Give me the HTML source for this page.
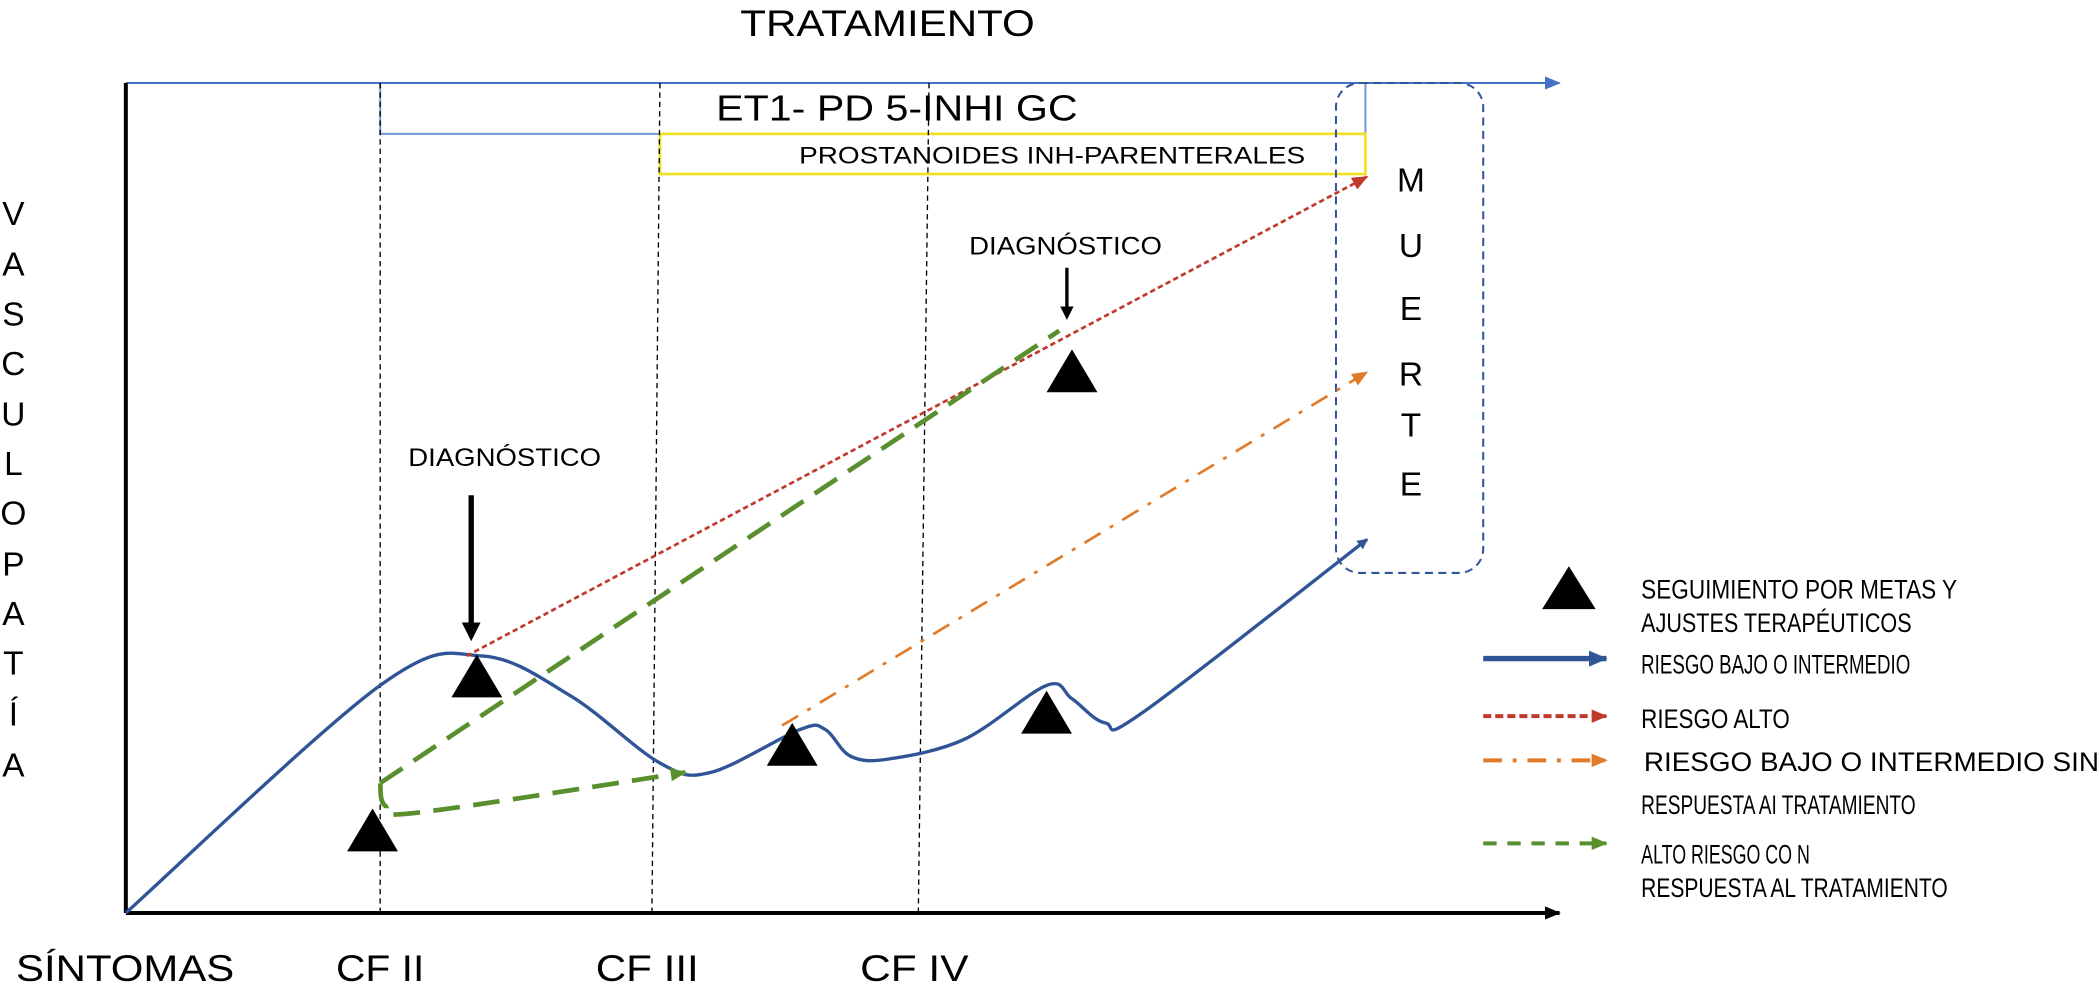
<!DOCTYPE html>
<html><head><meta charset="utf-8"><style>
html,body{margin:0;padding:0;background:#fff;}
svg{display:block;font-family:"Liberation Sans",sans-serif;}
</style></head><body>
<svg id="chart" width="2099" height="993" viewBox="0 0 1568 741.8" preserveAspectRatio="none">
<defs>
<marker id="aBlue" markerWidth="8" markerHeight="8" refX="7" refY="4" orient="auto" markerUnits="userSpaceOnUse"><path d="M0,0 L8,4 L0,8z" fill="#2f5597"/></marker>
<marker id="aBlack" markerWidth="12" markerHeight="10" refX="11" refY="5" orient="auto" markerUnits="userSpaceOnUse"><path d="M0,0 L12,5 L0,10z" fill="#000"/></marker>
<marker id="aTop" markerWidth="12" markerHeight="10" refX="11" refY="5" orient="auto" markerUnits="userSpaceOnUse"><path d="M0,0 L12,5 L0,10z" fill="#4472c4"/></marker>
<marker id="aRed" markerWidth="12" markerHeight="10" refX="11" refY="5" orient="auto" markerUnits="userSpaceOnUse"><path d="M0,0 L12,5 L0,10z" fill="#c0392b"/></marker>
<marker id="aOr" markerWidth="12" markerHeight="10" refX="11" refY="5" orient="auto" markerUnits="userSpaceOnUse"><path d="M0,0 L12,5 L0,10z" fill="#e07b2a"/></marker>
<marker id="aGr" markerWidth="12" markerHeight="10" refX="11" refY="5" orient="auto" markerUnits="userSpaceOnUse"><path d="M0,0 L12,5 L0,10z" fill="#5a8f2e"/></marker>
<marker id="aBl2" markerWidth="14" markerHeight="12" refX="13" refY="6" orient="auto" markerUnits="userSpaceOnUse"><path d="M0,0 L14,6 L0,12z" fill="#2f5597"/></marker>
</defs>

<text x="553" y="27" font-size="28" textLength="220" lengthAdjust="spacingAndGlyphs">TRATAMIENTO</text>

<rect x="284" y="62" width="736" height="38" fill="none" stroke="#6f9ad6" stroke-width="1.5"/>
<rect x="493" y="100" width="527" height="30" fill="none" stroke="#f0e020" stroke-width="2"/>
<text x="535" y="90" font-size="27" textLength="270" lengthAdjust="spacingAndGlyphs">ET1- PD 5-INHI GC</text>
<text x="597" y="122" font-size="18" textLength="378" lengthAdjust="spacingAndGlyphs">PROSTANOIDES INH-PARENTERALES</text>

<line x1="94" y1="62" x2="1165" y2="62" stroke="#4472c4" stroke-width="1.5" marker-end="url(#aTop)"/>
<line x1="94" y1="62" x2="94" y2="682" stroke="#000" stroke-width="3"/>
<line x1="94" y1="682" x2="1165" y2="682" stroke="#000" stroke-width="3" marker-end="url(#aBlack)"/>

<line x1="284" y1="62" x2="284" y2="682" stroke="#000" stroke-width="1" stroke-dasharray="4,3"/>
<line x1="493" y1="62" x2="487" y2="682" stroke="#000" stroke-width="1" stroke-dasharray="4,3"/>
<line x1="694" y1="62" x2="686" y2="682" stroke="#000" stroke-width="1" stroke-dasharray="4,3"/>

<rect x="998" y="62" width="110" height="366" rx="18" fill="none" stroke="#2f5597" stroke-width="1.5" stroke-dasharray="6,4"/>
<g font-size="25" text-anchor="middle">
<text x="1054" y="143">M</text><text x="1054" y="192">U</text><text x="1054" y="239">E</text><text x="1054" y="288">R</text><text x="1054" y="326">T</text><text x="1054" y="370">E</text>
</g>

<g font-size="25" text-anchor="middle">
<text x="10" y="168">V</text><text x="10" y="206">A</text><text x="10" y="243">S</text><text x="10" y="280">C</text><text x="10" y="318">U</text><text x="10" y="355">L</text><text x="10" y="392">O</text><text x="10" y="430">P</text><text x="10" y="467">A</text><text x="10" y="504">T</text><text x="10" y="542">Í</text><text x="10" y="580">A</text>
</g>

<g id="series"></g>
<g id="marks"></g>

<g>
<text x="305" y="348" font-size="19" textLength="144" lengthAdjust="spacingAndGlyphs">DIAGNÓSTICO</text>
<line x1="352" y1="370" x2="352" y2="466" stroke="#000" stroke-width="4"/>
<path d="M345,465 L359,465 L352,479z" fill="#000"/>
</g>
<g>
<text x="724" y="190" font-size="19" textLength="144" lengthAdjust="spacingAndGlyphs">DIAGNÓSTICO</text>
<line x1="797" y1="200" x2="797" y2="230" stroke="#000" stroke-width="2.5"/>
<path d="M792,229 L802,229 L797,239z" fill="#000"/>
</g>

<g id="xlabels" font-size="28"></g>

<g font-size="20">
<path d="M1172,423 L1192,455 L1152,455z" fill="#000"/>
<text x="1226" y="447" textLength="236" lengthAdjust="spacingAndGlyphs">SEGUIMIENTO POR METAS Y</text>
<text x="1226" y="472" textLength="202" lengthAdjust="spacingAndGlyphs">AJUSTES TERAPÉUTICOS</text>
<line x1="1108" y1="492" x2="1200" y2="492" stroke="#2f5597" stroke-width="4" marker-end="url(#aBl2)"/>
<text x="1226" y="503" textLength="201" lengthAdjust="spacingAndGlyphs">RIESGO BAJO O INTERMEDIO</text>
<line x1="1108" y1="535" x2="1200" y2="535" stroke="#c0392b" stroke-width="3" stroke-dasharray="6,3" marker-end="url(#aRed)"/>
<text x="1226" y="544" textLength="111" lengthAdjust="spacingAndGlyphs">RIESGO ALTO</text>
<line x1="1108" y1="568" x2="1200" y2="568" stroke="#e07b2a" stroke-width="3" stroke-dasharray="14,8,3,8" marker-end="url(#aOr)"/>
<text x="1228" y="576" textLength="340" lengthAdjust="spacingAndGlyphs">RIESGO BAJO O INTERMEDIO SIN</text>
<text x="1226" y="608" textLength="205" lengthAdjust="spacingAndGlyphs">RESPUESTA AI TRATAMIENTO</text>
<line x1="1108" y1="630" x2="1200" y2="630" stroke="#5a8f2e" stroke-width="3" stroke-dasharray="10,8" marker-end="url(#aGr)"/>
<text x="1226" y="645" textLength="126" lengthAdjust="spacingAndGlyphs">ALTO RIESGO CO N</text>
<text x="1226" y="670" textLength="229" lengthAdjust="spacingAndGlyphs">RESPUESTA AL TRATAMIENTO</text>
</g>
</svg>
<script>
// diagram coordinates (x: time units, y: severity units)
const categories = ["SÍNTOMAS", "CF II", "CF III", "CF IV"];
const categoryX = [0, 1, 2.05, 3.1];
const categoryWidths = [163, 66, 77, 81];
const lowRiskX = [0, 1, 1.4, 1.75, 2.1, 2.3, 2.65, 2.75, 2.85, 3.0, 3.3, 3.62, 3.72, 3.85, 4.0, 4.88];
const lowRiskY = [0, 1.7, 1.92, 1.62, 1.12, 1.05, 1.37, 1.37, 1.17, 1.15, 1.3, 1.7, 1.6, 1.42, 1.5, 2.79];
const highRiskX = [1.34, 4.88];
const highRiskY = [1.92, 5.5];
const noRespX = [2.58, 4.88];
const noRespY = [1.4, 4.04];
const greenX = [1.0, 3.67];
const greenY = [0.97, 4.35];
const greenCurveX = [1.0, 1.02, 1.15, 2.2];
const greenCurveY = [0.97, 0.8, 0.75, 1.05];
const triX = [0.97, 1.38, 2.62, 3.62, 3.72];
const triY = [0.62, 1.77, 1.26, 1.5, 4.05];
const x = v => 94 + v * 190;
const y = v => 682 - v * 100;
const NS = "http://www.w3.org/2000/svg";
const series = document.getElementById("series");
function smoothPath(xs, ys) {
  const p = xs.map((v, i) => [x(v), y(ys[i])]);
  let d = "M" + p[0][0] + "," + p[0][1];
  for (let i = 0; i < p.length - 1; i++) {
    const p0 = p[Math.max(0, i - 1)], p1 = p[i], p2 = p[i + 1], p3 = p[Math.min(p.length - 1, i + 2)];
    const c1x = p1[0] + (p2[0] - p0[0]) / 6, c1y = p1[1] + (p2[1] - p0[1]) / 6;
    const c2x = p2[0] - (p3[0] - p1[0]) / 6, c2y = p2[1] - (p3[1] - p1[1]) / 6;
    d += " C" + c1x + "," + c1y + " " + c2x + "," + c2y + " " + p2[0] + "," + p2[1];
  }
  return d;
}
function addPath(d, stroke, w, dash, marker) {
  const el = document.createElementNS(NS, "path");
  el.setAttribute("d", d);
  el.setAttribute("fill", "none");
  el.setAttribute("stroke", stroke);
  el.setAttribute("stroke-width", w);
  if (dash) el.setAttribute("stroke-dasharray", dash);
  if (marker) el.setAttribute("marker-end", marker);
  series.appendChild(el);
  return el;
}
let el;
el = addPath(smoothPath(lowRiskX, lowRiskY), "#2f5597", 2.5, null, "url(#aBlue)");


el = addPath("M" + x(highRiskX[0]) + "," + y(highRiskY[0]) + " L" + x(highRiskX[1]) + "," + y(highRiskY[1]), "#c0392b", 2, "4,2.5", "url(#aRed)");


el = addPath("M" + x(noRespX[0]) + "," + y(noRespY[0]) + " L" + x(noRespX[1]) + "," + y(noRespY[1]), "#e07b2a", 2, "14,8,3,8", "url(#aOr)");


el = addPath("M" + x(greenX[0]) + "," + y(greenY[0]) + " L" + x(greenX[1]) + "," + y(greenY[1]), "#5a8f2e", 3.5, "20,10", null);


el = addPath(smoothPath(greenCurveX, greenCurveY), "#5a8f2e", 3.5, "20,10", "url(#aGr)");


const marks = document.getElementById("marks");
triX.forEach((tx, i) => {
  const cx = x(tx), cy = y(triY[i]);
  const t = document.createElementNS(NS, "path");
  t.setAttribute("d", `M${cx},${cy - 16} L${cx + 19},${cy + 16} L${cx - 19},${cy + 16}z`);
  t.setAttribute("fill", "#000");
  
  
  marks.appendChild(t);
});
const xl = document.getElementById("xlabels");
categories.forEach((c, i) => {
  const t = document.createElementNS(NS, "text");
  const w = categoryWidths[i];
  t.setAttribute("x", i === 0 ? 12 : x(categoryX[i]) - w / 2);
  t.setAttribute("y", 733);
  t.setAttribute("textLength", w);
  t.setAttribute("lengthAdjust", "spacingAndGlyphs");
  t.textContent = c;
  
  
  xl.appendChild(t);
});
</script>
</body></html>
